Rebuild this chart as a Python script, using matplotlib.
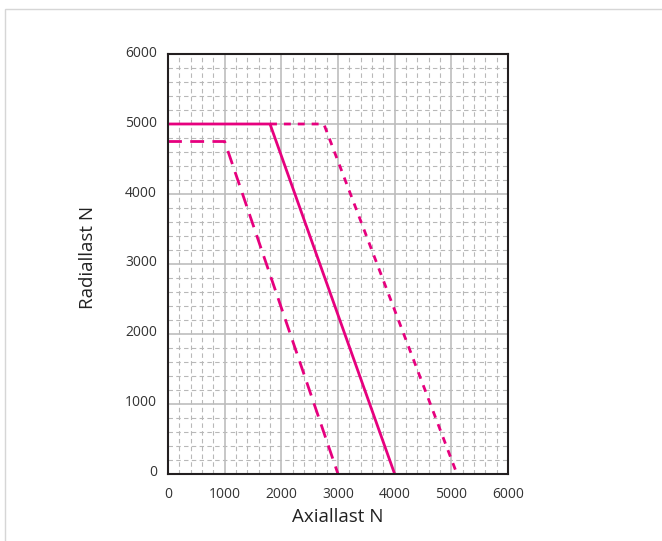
import matplotlib
matplotlib.use("Agg")
import matplotlib.pyplot as plt
import matplotlib.transforms as mtransforms
from matplotlib.patches import Rectangle
import numpy as np

plt.rcParams['font.family'] = ['Open Sans', 'DejaVu Sans']

# data
solid_x = [0, 1800, 4000]
solid_y = [5000, 5000, 0]
dashed_x = [0, 1000, 3000]
dashed_y = [4750, 4750, 0]
dotted_x = [1800, 2750, 5100]
dotted_y = [5000, 5000, 0]
ticks = [0, 1000, 2000, 3000, 4000, 5000, 6000]
xlabel = "Axiallast N"
ylabel = "Radiallast N"

color = "#E6007E"

fig = plt.figure(figsize=(6.62, 5.41), dpi=100)
# outer light frame
fig.patches.append(Rectangle((5/662, -0.1), 2.0, (541-9)/541 + 0.1, transform=fig.transFigure,
                             fill=False, edgecolor="#d6d6d6", linewidth=1.0))

ax = fig.add_axes([168/662, 67/541, 340/662, 420/541])
ax.set_xlim(0, 6000)
ax.set_ylim(0, 6000)

# minor grid
for v in np.arange(200, 6000, 200):
    if v % 1000 == 0:
        continue
    ax.axvline(v, color="#b8b8b8", lw=0.8, linestyle=(0, (4, 3)), zorder=1)
    ax.axhline(v, color="#b8b8b8", lw=0.8, linestyle=(0, (4, 3)), zorder=1)
for v in ticks[1:-1]:
    ax.axvline(v, color="#bdbdbd", lw=1.2, zorder=1)
    ax.axhline(v, color="#bdbdbd", lw=1.2, zorder=1)

ax.plot(solid_x, solid_y, color=color, lw=2.0, zorder=3, solid_capstyle='butt')
ax.plot(dashed_x, dashed_y, color=color, lw=2.0, linestyle=(0, (5, 3)), zorder=3)
ax.plot(dotted_x, dotted_y, color=color, lw=2.0, linestyle=(0, (2.5, 2.5)), zorder=3)

ax.set_xticks(ticks)
ax.set_yticks(ticks)
ax.set_xticklabels([str(t) for t in ticks])
ax.set_yticklabels([str(t) for t in ticks])
ax.tick_params(length=0, labelsize=10, colors="#333333")
ax.tick_params(axis='x', pad=9)
ax.tick_params(axis='y', pad=8)
offset = mtransforms.ScaledTranslation(0, 3/100, fig.dpi_scale_trans)
for lab in ax.get_yticklabels():
    lab.set_transform(lab.get_transform() + offset)

for s in ax.spines.values():
    s.set_color("#231f20")
    s.set_linewidth(1.5)
    s.set_zorder(4)

ax.set_xlabel(xlabel, fontsize=13.5, color="#222222", labelpad=5)
ax.set_ylabel(ylabel, fontsize=13.5, color="#222222")
ax.yaxis.set_label_coords(-0.21, 0.515)

fig.savefig("out.png", dpi=100)
